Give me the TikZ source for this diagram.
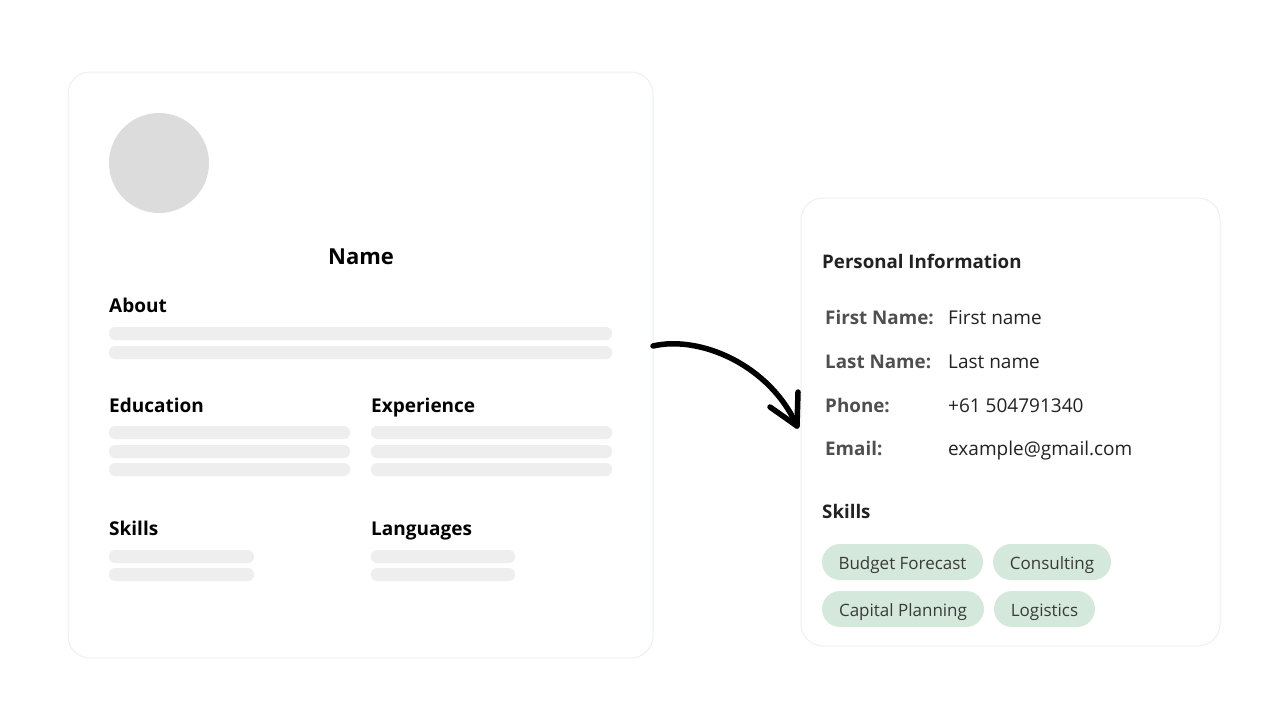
\documentclass[tikz,border=0pt]{standalone}
\usepackage{fontspec}
\setmainfont{Open Sans}
\begin{document}
\begin{tikzpicture}[x=1pt,y=-1pt,
  card/.style={draw=cardline,line width=1pt,fill=white,rounded corners=22pt},
  bar/.style={fill=barfill,rounded corners=6pt},
  head/.style={anchor=base west,inner sep=0pt,text=black,font=\fontsize{19}{22}\selectfont\bfseries},
  rhead/.style={anchor=base west,inner sep=0pt,text=headtxt,font=\fontsize{18.7}{22}\selectfont\bfseries},
  lab/.style={anchor=base west,inner sep=0pt,text=labtxt,font=\fontsize{18.8}{22}\selectfont\bfseries},
  val/.style={anchor=base west,inner sep=0pt,text=valtxt,font=\fontsize{19}{22}\selectfont},
  chiptxt/.style={anchor=base,inner sep=0pt,text=chiptext,font=\fontsize{17}{20}\selectfont},
]
\definecolor{cardline}{HTML}{EAF2EE}
\definecolor{barfill}{HTML}{EEEEEE}
\definecolor{avatar}{HTML}{DCDCDC}
\definecolor{headtxt}{HTML}{222222}
\definecolor{labtxt}{HTML}{4F4F4F}
\definecolor{valtxt}{HTML}{222222}
\definecolor{chipfill}{HTML}{D5E8DC}
\definecolor{chiptext}{HTML}{3A3A3A}
\useasboundingbox (0,0) rectangle (1280,720);
\fill[white] (0,0) rectangle (1280,720);

% left card
\draw[card] (68,72) rectangle (653,658);
\coordinate (leftcard) at (653,346);
\fill[avatar] (159,163) circle[radius=50];
\node[inner sep=0pt,anchor=base,text=black,font=\fontsize{22}{26}\selectfont\bfseries] (name) at (361,264) {Name};
\node[head] (about) at (109,312) {About};
\fill[bar] (109,327) rectangle (612,340);
\fill[bar] (109,346) rectangle (612,359);
\node[head] (edu) at (109,412) {Education};
\node[head] (exp) at (371,412) {Experience};
\foreach \y in {426,445,463}{
  \fill[bar] (109,\y) rectangle (350,\y+13);
  \fill[bar] (371,\y) rectangle (612,\y+13);
}
\node[head] (skl) at (109,535) {Skills};
\node[head] (lang) at (371,535) {Languages};
\foreach \y in {550,568}{
  \fill[bar] (109,\y) rectangle (254,\y+13);
  \fill[bar] (371,\y) rectangle (515,\y+13);
}

% right card
\draw[card] (801,198) rectangle (1220,646);
\node[rhead] (pi) at (822,268) {Personal Information};
\node[lab] (l1) at (825,324) {First Name:};
\node[val] (v1) at (948,324) {First name};
\node[lab] (l2) at (825,368) {Last Name:};
\node[val] (v2) at (948,368) {Last name};
\node[lab] (l3) at (825,412) {Phone:};
\node[val] (v3) at (948,412) {+61 504791340};
\node[lab] (l4) at (825,455) {Email:};
\node[val] (v4) at (948,455) {example@gmail.com};
\node[rhead] (rskills) at (822,518) {Skills};

\fill[chipfill,rounded corners=18pt] (822,544) rectangle (983,580);
\node[chiptxt] (c1) at (902.5,569) {Budget Forecast};
\fill[chipfill,rounded corners=18pt] (993,544) rectangle (1111,580);
\node[chiptxt] (c2) at (1052,569) {Consulting};
\fill[chipfill,rounded corners=18pt] (822,591) rectangle (984,627);
\node[chiptxt] (c3) at (903,616) {Capital Planning};
\fill[chipfill,rounded corners=18pt] (994,591) rectangle (1095,627);
\node[chiptxt] (c4) at (1044.5,616) {Logistics};

% arrow
\coordinate (tip) at (797,426);
\draw[line width=5.5pt,line cap=round] (leftcard) .. controls (700,335) and (770,365) .. (tip);
\draw[line width=5.5pt,line cap=round,line join=round] (770,407) -- (tip) -- (798,392);
\end{tikzpicture}
\end{document}
